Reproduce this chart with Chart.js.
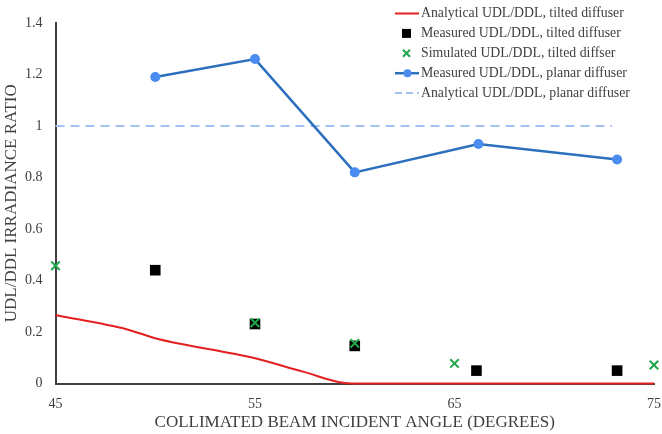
<!DOCTYPE html>
<html>
<head>
<meta charset="utf-8">
<script src="https://cdn.jsdelivr.net/npm/chart.js@4.4.1/dist/chart.umd.min.js"></script>
<style>
  html, body { margin: 0; padding: 0; background: #ffffff; }
  #wrap { width: 662px; height: 434px; position: relative; }
</style>
</head>
<body>
<div id="wrap"><canvas id="c" width="662" height="434"></canvas></div>
<script>
// ---- Data ----
const seriesLabels = [
  'Analytical UDL/DDL, tilted diffuser',
  'Measured UDL/DDL, tilted diffuser',
  'Simulated UDL/DDL, tilted diffser',
  'Measured UDL/DDL, planar diffuser',
  'Analytical UDL/DDL, planar diffuser'
];
const analyticalTiltedX = [45, 48.6, 50, 55, 57.4, 59.8, 75];
const analyticalTiltedY = [0.266, 0.21, 0.176, 0.098, 0.046, 0, 0];
const measuredTiltedX = [50, 55, 60, 66.1, 73.15];
const measuredTiltedY = [0.44, 0.231, 0.146, 0.05, 0.05];
const simulatedTiltedX = [45, 55, 60, 65, 75];
const simulatedTiltedY = [0.457, 0.236, 0.156, 0.078, 0.072];
const measuredPlanarX = [50, 55, 60, 66.2, 73.15];
const measuredPlanarY = [1.19, 1.26, 0.82, 0.93, 0.87];
const analyticalPlanarX = [45, 72.9];
const analyticalPlanarY = [1, 1];
const xTicks = [45, 55, 65, 75];
const yTicks = [0, 0.2, 0.4, 0.6, 0.8, 1, 1.2, 1.4];
const xTitle = 'COLLIMATED BEAM INCIDENT ANGLE (DEGREES)';
const yTitle = 'UDL/DDL IRRADIANCE RATIO';

function pts(xs, ys) { return xs.map((x, i) => ({ x: x, y: ys[i] })); }

const SERIF = '"Liberation Serif", "Times New Roman", serif';
const TXT = '#404040';

const legendPlugin = {
  id: 'insideLegend',
  afterDraw(chart) {
    const ctx = chart.ctx;
    const ds = chart.data.datasets;
    const x0 = 395, x1 = 420, y0 = 13.5, step = 19.9;
    ctx.save();
    ctx.font = '13.8px ' + SERIF;
    ctx.textBaseline = 'middle';
    ctx.textAlign = 'left';
    ds.forEach((d, i) => {
      const y = y0 + i * step;
      const kind = d.legendKind;
      if (kind === 'line' || kind === 'lineDot' || kind === 'dash') {
        ctx.save();
        ctx.strokeStyle = d.borderColor;
        ctx.lineWidth = d.borderWidth;
        ctx.setLineDash(kind === 'dash' ? [7, 4] : []);
        ctx.beginPath();
        ctx.moveTo(x0, y);
        ctx.lineTo(x1 - 1, y);
        ctx.stroke();
        ctx.restore();
        if (kind === 'lineDot') {
          ctx.fillStyle = d.pointBackgroundColor;
          ctx.beginPath();
          ctx.arc((x0 + x1) / 2, y, 4, 0, Math.PI * 2);
          ctx.fill();
        }
      } else if (kind === 'square') {
        ctx.fillStyle = d.pointBackgroundColor;
        ctx.fillRect(402, y - 4.5, 9, 9);
      } else if (kind === 'cross') {
        ctx.save();
        ctx.strokeStyle = d.pointBorderColor;
        ctx.lineWidth = 2;
        ctx.beginPath();
        ctx.moveTo(403, y - 3.5); ctx.lineTo(410, y + 3.5);
        ctx.moveTo(410, y - 3.5); ctx.lineTo(403, y + 3.5);
        ctx.stroke();
        ctx.restore();
      }
      ctx.fillStyle = TXT;
      ctx.fillText(d.label, x1 + 1, y);
    });
    ctx.restore();
  }
};

new Chart(document.getElementById('c'), {
  type: 'scatter',
  data: {
    datasets: [
      {
        label: seriesLabels[0], legendKind: 'line',
        data: pts(analyticalTiltedX, analyticalTiltedY),
        showLine: true, borderColor: '#e41f1f', borderWidth: 2,
        pointRadius: 0, cubicInterpolationMode: 'monotone', clip: false, order: 5
      },
      {
        label: seriesLabels[1], legendKind: 'square',
        data: pts(measuredTiltedX, measuredTiltedY),
        showLine: false, pointStyle: 'rect', pointRadius: 7.5,
        pointBackgroundColor: '#000000', pointBorderColor: '#000000', pointBorderWidth: 0,
        clip: false, order: 4
      },
      {
        label: seriesLabels[2], legendKind: 'cross',
        data: pts(simulatedTiltedX, simulatedTiltedY),
        showLine: false, pointStyle: 'crossRot', pointRadius: 6,
        pointBorderColor: '#1fa64a', pointBackgroundColor: '#1fa64a', pointBorderWidth: 2,
        clip: false, order: 3
      },
      {
        label: seriesLabels[3], legendKind: 'lineDot',
        data: pts(measuredPlanarX, measuredPlanarY),
        showLine: true, borderColor: '#2b6fbd', borderWidth: 2.5, tension: 0,
        pointStyle: 'circle', pointRadius: 5, pointBackgroundColor: '#4a8cf0',
        pointBorderColor: '#4a8cf0', pointBorderWidth: 0, clip: false, order: 2
      },
      {
        label: seriesLabels[4], legendKind: 'dash',
        data: pts(analyticalPlanarX, analyticalPlanarY),
        showLine: true, borderColor: '#a3c2f2', borderWidth: 2, borderDash: [9, 6],
        pointRadius: 0, clip: false, order: 6
      }
    ]
  },
  options: {
    responsive: false,
    animation: false,
    devicePixelRatio: 1,
    layout: { padding: { left: 0, right: 7, top: 23, bottom: 0 } },
    plugins: { legend: { display: false }, tooltip: { enabled: false } },
    scales: {
      x: {
        type: 'linear', min: 45, max: 75,
        afterBuildTicks: (s) => { s.ticks = xTicks.map(v => ({ value: v })); },
        afterFit: (s) => { s.height = 50.5; s.paddingRight = 0; s.paddingLeft = 0; },
        grid: { display: false, drawTicks: false },
        border: { display: true, color: '#404040', width: 2 },
        ticks: { color: TXT, font: { family: SERIF, size: 14 }, padding: 12, maxRotation: 0,
                 callback: (v) => String(v) },
        title: { display: true, text: xTitle, color: TXT, font: { family: SERIF, size: 17 },
                 padding: { top: 2, bottom: 1 } }
      },
      y: {
        type: 'linear', min: 0, max: 1.4,
        afterBuildTicks: (s) => { s.ticks = yTicks.map(v => ({ value: v })); },
        afterFit: (s) => { s.width = 55.5; s.paddingTop = 0; s.paddingBottom = 0; },
        grid: { display: false, drawTicks: false },
        border: { display: true, color: '#404040', width: 2 },
        ticks: { color: TXT, font: { family: SERIF, size: 14 }, padding: 13,
                 callback: (v) => String(Math.round(v * 10) / 10) },
        title: { display: true, text: yTitle, color: TXT, font: { family: SERIF, size: 17 },
                 padding: { top: 1, bottom: 0 } }
      }
    }
  },
  plugins: [legendPlugin]
});
</script>
</body>
</html>
